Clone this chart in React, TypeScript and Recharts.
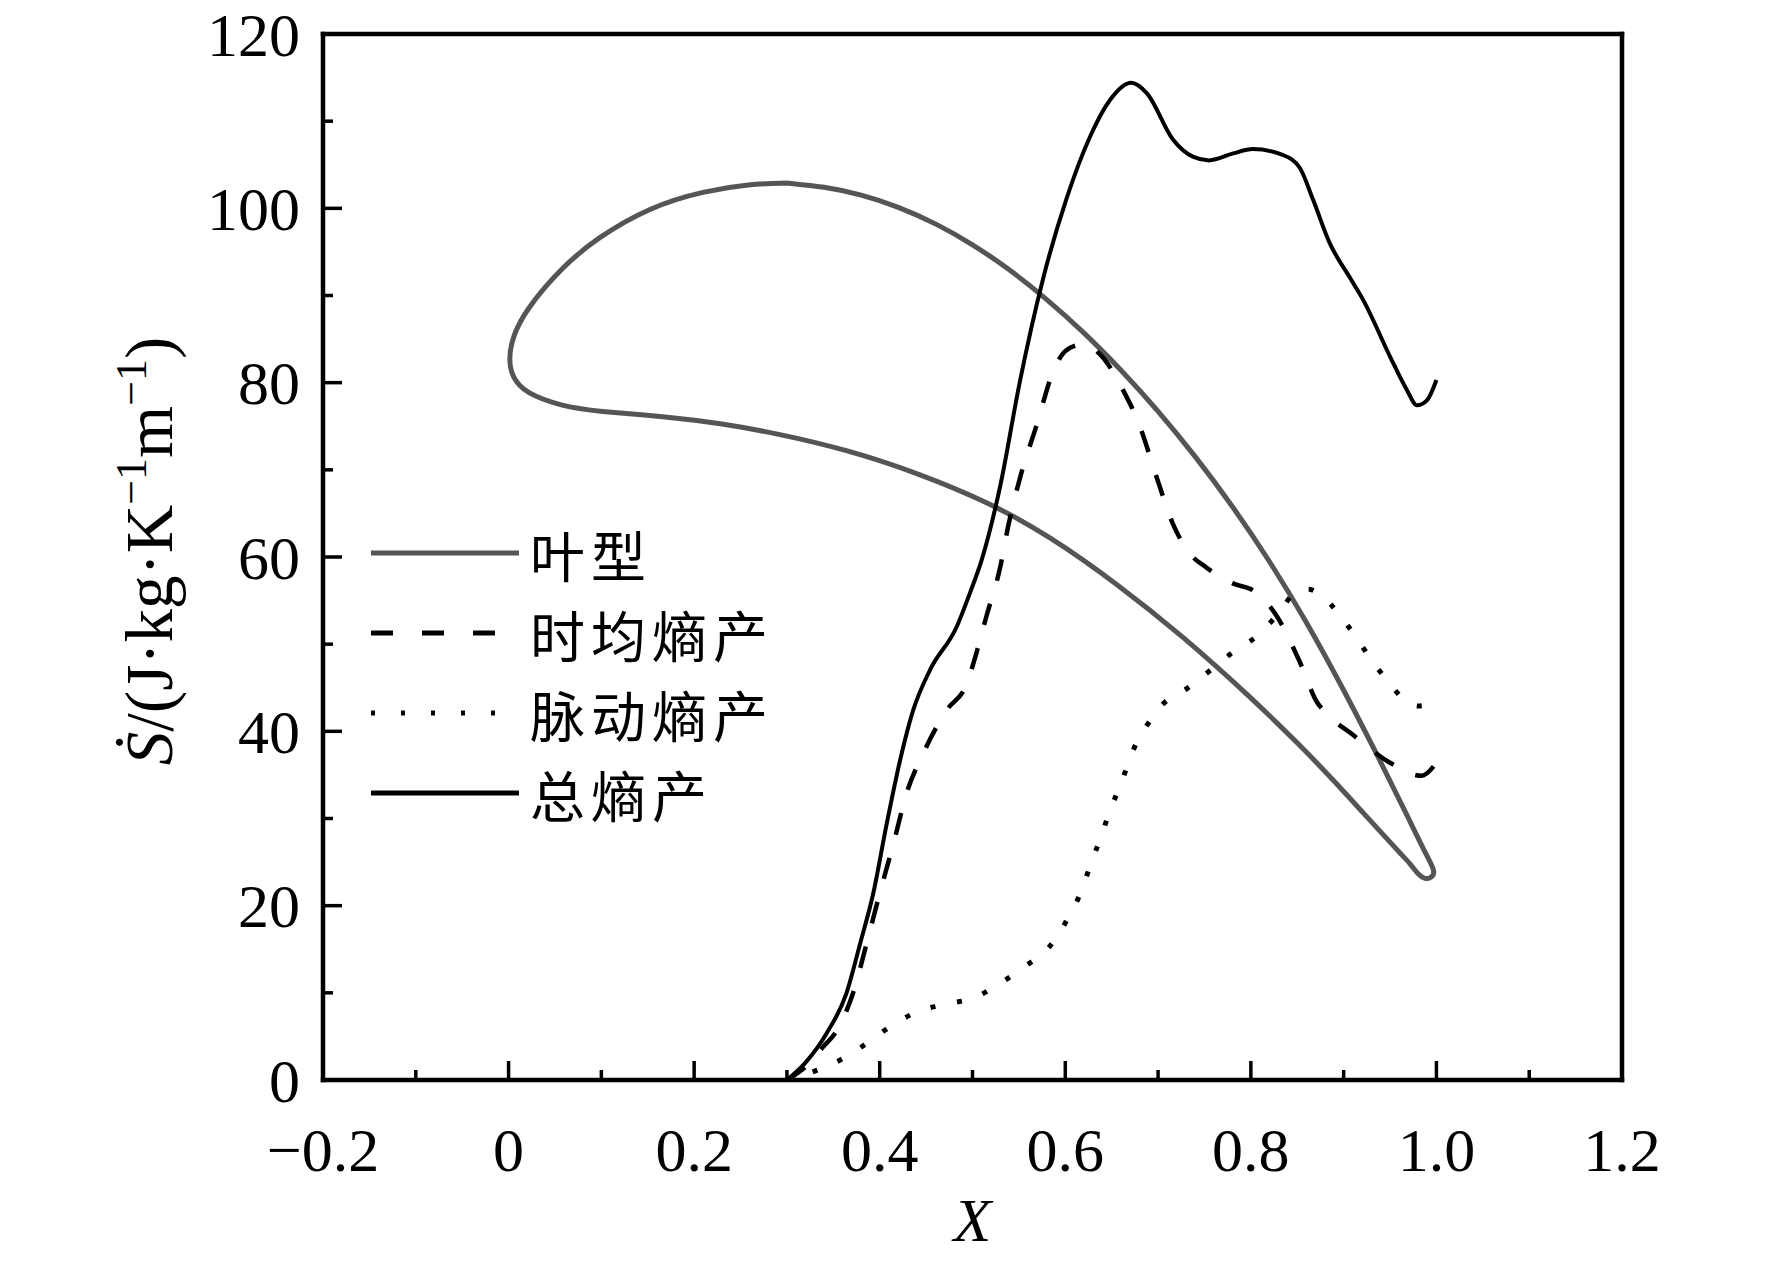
import { LineChart, Line, XAxis, YAxis, ReferenceLine, Legend } from 'recharts';

const SERIF = '"Liberation Serif", "Times New Roman", serif';
const CJK = '"Noto Sans CJK SC", "Noto Sans CJK TC", sans-serif';

// blade profile (叶型) as a closed loop: top of suction side -> TE -> pressure side -> LE -> back
const bladeX = [0.3, 0.34, 0.38, 0.42, 0.46, 0.5, 0.54, 0.58, 0.62, 0.66, 0.7, 0.74, 0.78, 0.82, 0.86, 0.9, 0.94, 0.97, 0.99, 0.999, 0.995, 0.988, 0.98, 0.972, 0.961, 0.943, 0.924, 0.889, 0.853, 0.8, 0.727, 0.655, 0.583, 0.519, 0.442, 0.365, 0.288, 0.23, 0.172, 0.095, 0.057, 0.018, 0.004, 0.0, 0.004, 0.018, 0.057, 0.095, 0.153, 0.211, 0.26, 0.3];
const bladeY = [102.9, 102.5, 101.6, 100.2, 98.3, 95.9, 93.0, 89.6, 85.8, 81.5, 76.8, 71.6, 65.9, 59.6, 52.6, 44.8, 36.5, 30.0, 25.6, 23.9, 23.2, 23.0, 23.6, 24.8, 26.0, 28.1, 30.3, 34.4, 38.4, 43.9, 50.9, 57.0, 62.4, 66.2, 69.6, 72.3, 74.2, 75.3, 76.1, 76.7, 77.3, 78.8, 80.6, 82.6, 85.2, 88.3, 93.2, 96.6, 100.2, 102.0, 102.8, 102.9];

// 总熵产
const totalX = [0.3, 0.32, 0.343, 0.364, 0.379, 0.393, 0.407, 0.422, 0.436, 0.454, 0.483, 0.497, 0.51, 0.53, 0.551, 0.576, 0.601, 0.627, 0.648, 0.671, 0.688, 0.716, 0.738, 0.755, 0.781, 0.802, 0.835, 0.853, 0.867, 0.885, 0.907, 0.921, 0.95, 0.968, 0.979, 0.99, 1.0];
const totalY = [0, 2.0, 5.4, 9.9, 15.7, 21.4, 29.1, 36.7, 42.4, 47.0, 52.0, 55.8, 59.7, 68.2, 80.1, 91.9, 101.0, 108.3, 112.4, 114.4, 113.2, 107.9, 105.9, 105.5, 106.3, 106.8, 106.1, 104.6, 101.0, 96.0, 92.0, 89.5, 83.0, 79.2, 77.4, 78.0, 80.3];

// 时均熵产
const meanX = [0.3, 0.32, 0.339, 0.354, 0.371, 0.386, 0.4, 0.415, 0.429, 0.447, 0.472, 0.494, 0.504, 0.515, 0.53, 0.538, 0.551, 0.569, 0.587, 0.601, 0.619, 0.637, 0.662, 0.68, 0.698, 0.716, 0.735, 0.752, 0.78, 0.805, 0.828, 0.853, 0.871, 0.88, 0.91, 0.95, 0.984, 1.0];
const meanY = [0, 1.5, 3.8, 5.7, 9.9, 15.7, 21.4, 27.2, 32.9, 37.5, 42.4, 45.5, 48.9, 53.2, 58.9, 63.3, 69.0, 75.1, 81.3, 83.7, 84.4, 83.3, 79.2, 75.1, 69.3, 63.8, 60.3, 58.8, 57.0, 56.0, 53.2, 47.9, 43.4, 42.2, 39.6, 36.4, 34.9, 36.4];

// 脉动熵产
const pulseX = [0.3, 0.332, 0.361, 0.386, 0.411, 0.44, 0.47, 0.501, 0.53, 0.556, 0.583, 0.601, 0.615, 0.627, 0.638, 0.649, 0.661, 0.673, 0.688, 0.705, 0.731, 0.754, 0.781, 0.806, 0.828, 0.849, 0.862, 0.876, 0.896, 0.912, 0.93, 0.948, 0.968, 0.98, 0.993];
const pulseY = [0, 1.1, 2.5, 4.2, 6.1, 7.8, 8.7, 9.4, 11.1, 13.0, 15.3, 18.2, 21.1, 24.6, 27.8, 31.1, 34.3, 37.8, 40.7, 43.1, 44.9, 46.8, 49.1, 50.9, 53.3, 56.0, 56.3, 55.6, 53.3, 51.0, 48.2, 45.7, 43.4, 42.9, 43.1];

const xTicks = [-0.2, -0.1, 0, 0.1, 0.2, 0.3, 0.4, 0.5, 0.6, 0.7, 0.8, 0.9, 1.0, 1.1, 1.2];
const xTickLabels = ['−0.2', '', '0', '', '0.2', '', '0.4', '', '0.6', '', '0.8', '', '1.0', '', '1.2'];
const yTicks = [0, 10, 20, 30, 40, 50, 60, 70, 80, 90, 100, 110, 120];
const yTickLabels = ['0', '', '20', '', '40', '', '60', '', '80', '', '100', '', '120'];

const legendNames = ['叶型', '时均熵产', '脉动熵产', '总熵产'];

const toPoints = (xs: number[], ys: number[]) => xs.map((x, i) => ({ x, y: ys[i] }));

const bladeData = toPoints(bladeX, bladeY);
const meanData = toPoints(meanX, meanY);
const pulseData = toPoints(pulseX, pulseY);
const totalData = toPoints(totalX, totalY);

// legend sample look, same order as legendNames
const legendStyles = [
  { stroke: '#555', width: 5, dash: undefined as string | undefined, len: 148 },
  { stroke: '#000', width: 5, dash: '22 29', len: 124 },
  { stroke: '#000', width: 5, dash: '4 26', len: 126 },
  { stroke: '#000', width: 5, dash: undefined as string | undefined, len: 148 },
];

const findIndex = (list: number[], v: number) => list.findIndex((t) => Math.abs(t - v) < 1e-6);

const XTick = (props: any) => {
  const { x, y, payload } = props;
  const label = xTickLabels[findIndex(xTicks, payload.value)] ?? '';
  const major = label !== '';
  return (
    <g>
      <line x1={x} y1={y} x2={x} y2={y - (major ? 19 : 10)} stroke="#000" strokeWidth={3.5} />
      {major && (
        <text x={x} y={y + 91} textAnchor="middle" fontSize={62} fontFamily={SERIF} fill="#000">
          {label}
        </text>
      )}
    </g>
  );
};

const YTick = (props: any) => {
  const { x, y, payload } = props;
  const label = yTickLabels[findIndex(yTicks, payload.value)] ?? '';
  const major = label !== '';
  return (
    <g>
      <line x1={x} y1={y} x2={x + (major ? 19 : 10)} y2={y} stroke="#000" strokeWidth={3.5} />
      {major && (
        <text x={x - 23} y={y + 21.5} textAnchor="end" fontSize={62} fontFamily={SERIF} fill="#000">
          {label}
        </text>
      )}
    </g>
  );
};

const XTitle = (props: any) => {
  const vb = props.viewBox || { x: 323, y: 1080, width: 1299 };
  return (
    <text x={vb.x + vb.width / 2} y={vb.y + 161} textAnchor="middle" fontSize={62} fontStyle="italic" fontFamily={SERIF} fill="#000">
      X
    </text>
  );
};

const YTitle = (props: any) => {
  const vb = props.viewBox || { x: 0, y: 34, width: 323, height: 1046 };
  const cx = 172;
  const cy = vb.y + vb.height / 2 - 6;
  return (
    <text x={cx} y={cy} transform={`rotate(-90 ${cx} ${cy})`} textAnchor="middle" fontSize={67} fontFamily={SERIF} fill="#000">
      <tspan fontStyle="italic">Ṡ</tspan>
      <tspan>/(J·kg·K</tspan>
      <tspan fontSize={44} dy={-26}>−1</tspan>
      <tspan dy={26}>m</tspan>
      <tspan fontSize={44} dy={-26}>−1</tspan>
      <tspan dy={26}>)</tspan>
    </text>
  );
};

const LegendBox = () => (
  <div style={{ display: 'flex', flexDirection: 'column' }}>
    {legendNames.map((name, i) => {
      const s = legendStyles[i];
      return (
        <div key={name} style={{ display: 'flex', alignItems: 'center', height: 80 }}>
          <svg width={148} height={10} style={{ display: 'block', flex: 'none' }}>
            <line x1={0} y1={5} x2={s.len} y2={5} stroke={s.stroke} strokeWidth={s.width} strokeDasharray={s.dash} />
          </svg>
          <span
            style={{
              display: 'block',
              marginLeft: 11,
              fontSize: 55,
              lineHeight: '80px',
              letterSpacing: 6,
              fontFamily: CJK,
              color: '#000',
              whiteSpace: 'nowrap',
            }}
          >
            {name}
          </span>
        </div>
      );
    })}
  </div>
);

export default function App() {
  return (
    <div style={{ position: 'absolute', left: 0, top: 0, width: 1772, height: 1265, background: '#fff' }}>
      <LineChart width={1772} height={1265} margin={{ top: 34, right: 150, left: 0, bottom: 0 }}>
        <XAxis
          type="number"
          dataKey="x"
          domain={[-0.2, 1.2]}
          ticks={xTicks}
          interval={0}
          allowDataOverflow
          height={185}
          tickLine={false}
          tickSize={0}
          tickMargin={0}
          tick={XTick}
          axisLine={{ stroke: '#000', strokeWidth: 4.5, strokeLinecap: 'square' }}
          label={XTitle}
        />
        <YAxis
          type="number"
          dataKey="y"
          domain={[0, 120]}
          ticks={yTicks}
          interval={0}
          allowDataOverflow
          width={323}
          tickLine={false}
          tickSize={0}
          tickMargin={0}
          tick={YTick}
          axisLine={{ stroke: '#000', strokeWidth: 4.5, strokeLinecap: 'square' }}
          label={YTitle}
        />
        <ReferenceLine y={120} stroke="#000" strokeWidth={4.5} strokeLinecap="square" />
        <ReferenceLine x={1.2} stroke="#000" strokeWidth={4.5} strokeLinecap="square" />
        <Legend
          layout="vertical"
          align="center"
          verticalAlign="middle"
          content={LegendBox}
          wrapperStyle={{ left: 371, top: 513, width: 420 }}
        />
        <Line data={bladeData} dataKey="y" name={legendNames[0]} type="basis" stroke="#555" strokeWidth={5} dot={false} activeDot={false} isAnimationActive={false} />
        <Line data={pulseData} dataKey="y" name={legendNames[2]} type="monotone" stroke="#000" strokeWidth={5} strokeDasharray="5 22" dot={false} activeDot={false} isAnimationActive={false} />
        <Line data={meanData} dataKey="y" name={legendNames[1]} type="monotone" stroke="#000" strokeWidth={4.5} strokeDasharray="22 24" dot={false} activeDot={false} isAnimationActive={false} />
        <Line data={totalData} dataKey="y" name={legendNames[3]} type="monotone" stroke="#000" strokeWidth={4} dot={false} activeDot={false} isAnimationActive={false} />
      </LineChart>
    </div>
  );
}
